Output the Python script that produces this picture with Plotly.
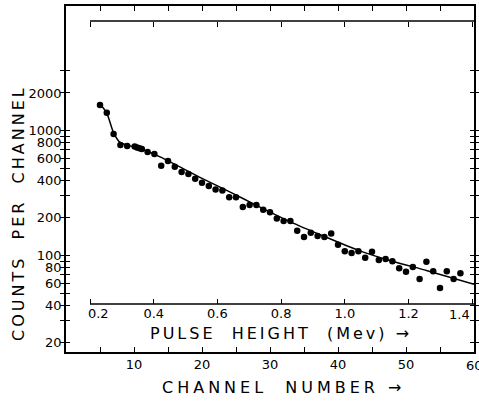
import plotly.graph_objects as go
import numpy as np

# ---- data ----
channels = [5, 6, 7, 8, 9, 10.1, 10.45, 10.8, 11.15, 12, 13, 14, 15, 16, 17, 18, 19, 20,
            21, 22, 23, 24, 25, 26, 27, 28, 29, 30, 31, 32, 33, 34, 35, 36, 37, 38, 39, 40,
            41, 42, 43, 44, 45, 46, 47, 48, 49, 50, 51, 52, 53, 54, 55, 56, 57, 58]
counts = [1603, 1390, 940, 767, 753, 747, 733, 723, 712, 675, 650, 524, 571, 514, 467, 450, 412, 383,
          360, 337, 331, 293, 293, 244, 254, 254, 232, 222, 198, 189, 189, 158, 141, 152, 143, 141, 150, 122,
          108, 105, 108, 96, 107, 92, 94, 90, 79, 74, 81, 65, 89, 75, 55, 75, 65, 72]

fit_channels = [5, 6, 7, 8, 10, 12, 14, 20, 24, 28, 33, 38, 43, 48, 53, 60]
fit_counts = [1630, 1380, 960, 800, 740, 680, 610, 415, 325, 252, 186, 142, 110, 90, 76, 59]

channel_ticks = [5, 10, 15, 20, 25, 30, 35, 40, 45, 50, 55, 60]
channel_labels = ["", "10", "", "20", "", "30", "", "40", "", "50", "", "60"]

count_ticks = [20, 30, 40, 50, 60, 70, 80, 90, 100, 200, 300, 400, 500, 600, 700, 800, 900,
               1000, 2000, 3000]
count_labels = ["20", "", "40", "", "60", "", "80", "", "100", "200", "", "400", "", "600", "",
                "800", "", "1000", "2000", ""]

energy_ticks = [0.2, 0.4, 0.6, 0.8, 1.0, 1.2, 1.4]
energy_labels = ["0.2", "0.4", "0.6", "0.8", "1.0", "1.2", "1.4"]
energy_range = [0.1246, 1.4056]   # pulse-height scale across the channel axis

# ---- geometry (pixels in a 479x401 page) ----
W, H = 479, 401
L, R, T, B = 66, 474, 6, 352
pw, ph = R - L, B - T

def px_x(p):
    return (p - L) / pw

def px_y(p):
    return (B - p) / ph

FONT = "DejaVu Sans"
NB = "\u00a0"

fig = go.Figure()

fig.add_trace(go.Scatter(
    x=fit_channels, y=fit_counts, mode="lines",
    line=dict(color="black", width=1.5, shape="spline", smoothing=0.6),
    xaxis="x", yaxis="y", hoverinfo="skip", showlegend=False))

fig.add_trace(go.Scatter(
    x=channels, y=counts, mode="markers",
    marker=dict(color="black", size=6.5),
    xaxis="x", yaxis="y", showlegend=False))

# invisible traces so the pulse-height axes are realised
for ax in ["x2", "x3"]:
    fig.add_trace(go.Scatter(x=[energy_ticks[0], energy_ticks[-1]], y=[100, 100],
                             mode="markers", marker=dict(opacity=0), xaxis=ax, yaxis="y",
                             hoverinfo="skip", showlegend=False))

tickfont = dict(family=FONT, size=13, color="black")

# edge labels (at the page border) are written as annotations on the axis scale
channel_text = list(channel_labels)
channel_text[-1] = ""
energy_text = list(energy_labels)
energy_text[0] = NB * 4 + energy_text[0]
energy_text[-1] = ""

common = dict(showgrid=False, zeroline=False, tickcolor="black", tickwidth=1.2,
              linecolor="black", linewidth=1.5)

fig.update_layout(
    width=W, height=H,
    margin=dict(l=L, r=W - R, t=T, b=H - B, autoexpand=False),
    paper_bgcolor="white", plot_bgcolor="white",
    showlegend=False,
    xaxis=dict(
        common, domain=[0, 1], range=[0, 60], tickmode="array",
        tickvals=channel_ticks, ticktext=channel_text,
        ticks="inside", ticklen=5, showline=True, mirror="allticks",
        tickfont=tickfont,
    ),
    yaxis=dict(
        common, type="log", domain=[0, 1], range=[np.log10(16.9), np.log10(9930)],
        tickmode="array", tickvals=count_ticks, ticktext=count_labels,
        ticks="inside", ticklen=4, showline=True, mirror="allticks",
        tickfont=tickfont,
    ),
    xaxis2=dict(
        common, overlaying="x", range=energy_range, anchor="free",
        position=px_y(304), side="bottom",
        tickmode="array", tickvals=energy_ticks, ticktext=energy_text,
        ticks="inside", ticklen=5, showline=False,
        tickfont=tickfont,
    ),
    xaxis3=dict(
        common, overlaying="x", range=energy_range, anchor="free",
        position=px_y(21), side="top",
        tickmode="array", tickvals=energy_ticks,
        ticks="inside", ticklen=5, showline=False, showticklabels=False,
    ),
)

# axis lines of the pulse-height scale, starting at its 0.2 tick
for pos in [px_y(304), px_y(21)]:
    fig.add_shape(type="line", xref="x2", yref="paper",
                  x0=energy_ticks[0], x1=energy_range[1], y0=pos, y1=pos,
                  line=dict(color="black", width=1.5))

# the two tick labels that sit at the right border
fig.add_annotation(text=channel_labels[-1], xref="x", x=channel_ticks[-1], yref="paper",
                   y=px_y(365), showarrow=False, font=tickfont,
                   xanchor="center", yanchor="middle")
fig.add_annotation(text=energy_labels[-1], xref="x2", x=energy_ticks[-1], yref="paper",
                   y=px_y(314), showarrow=False, font=tickfont,
                   xanchor="right", yanchor="middle")

def spaced(text, sp):
    return f'<span style="letter-spacing:{sp}px">{text}</span>'

titlefont = dict(family=FONT, size=16, color="black")
fig.add_annotation(text=spaced("COUNTS  PER  CHANNEL", 3), xref="paper", yref="paper",
                   x=px_x(18), y=px_y(213), textangle=-90, showarrow=False,
                   font=titlefont, xanchor="center", yanchor="middle")
fig.add_annotation(text=spaced("PULSE  HEIGHT  (Mev) →", 3), xref="paper", yref="paper",
                   x=px_x(281), y=px_y(333), showarrow=False,
                   font=titlefont, xanchor="center", yanchor="middle")
fig.add_annotation(text=spaced("CHANNEL  NUMBER →", 4), xref="paper", yref="paper",
                   x=px_x(283), y=px_y(387), showarrow=False,
                   font=titlefont, xanchor="center", yanchor="middle")

fig.write_html("out.html")
